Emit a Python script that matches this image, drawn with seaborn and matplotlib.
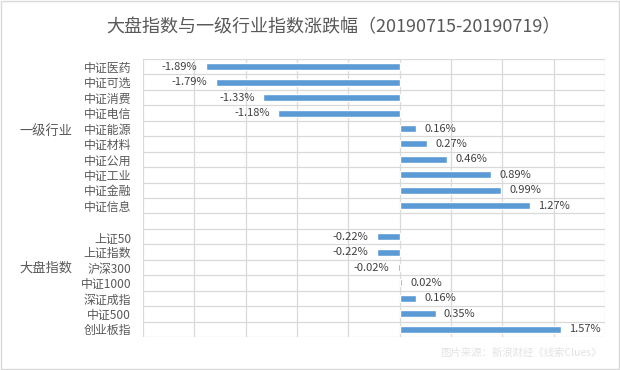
import pandas as pd
import seaborn as sns
import matplotlib.pyplot as plt
import numpy as np

# values
industry_names = ["中证医药", "中证可选", "中证消费", "中证电信", "中证能源",
                  "中证材料", "中证公用", "中证工业", "中证金融", "中证信息"]
industry_values = [-1.89, -1.79, -1.33, -1.18, 0.16, 0.27, 0.46, 0.89, 0.99, 1.27]
index_names = ["上证50", "上证指数", "沪深300", "中证1000", "深证成指", "中证500", "创业板指"]
index_values = [-0.22, -0.22, -0.02, 0.02, 0.16, 0.35, 1.57]
group_names = ["一级行业", "大盘指数"]

title = "大盘指数与一级行业指数涨跌幅（20190715-20190719）"
source = "图片来源：新浪财经《线索Clues》"

# one blank row separates the two groups
names = industry_names + [""] + index_names
values = industry_values + [np.nan] + index_values
df = pd.DataFrame({"name": names, "value": values})

sns.set_theme(style="white")
plt.rcParams["font.family"] = ["Noto Sans CJK SC", "DejaVu Sans"]

grid_c = "#d9d9d9"
text_c = "#595959"
bar_c = "#5b9bd5"

fig = plt.figure(figsize=(6.2, 3.7), dpi=100)
ax = fig.add_axes([0.2306, 0.0892, 0.9758 - 0.2306, 0.8405 - 0.0892])

sns.barplot(data=df, x="value", y="name", order=names, orient="h",
            color=bar_c, saturation=1, width=0.45, ax=ax, zorder=3)

ax.set_xlim(-2.5, 2.0)
ax.set_ylim(len(names) - 0.5, -0.5)
ax.set_xticks(np.arange(-2.5, 2.01, 0.5))
ax.set_xticklabels([])
ax.set_yticks(range(len(names)))
ax.set_yticklabels(names, fontsize=8.6, color=text_c)
ax.set_yticks(np.arange(-0.5, len(names), 1.0), minor=True)
ax.tick_params(axis="both", which="both", length=0, pad=8.5)
ax.grid(True, axis="x", which="major", color=grid_c, lw=0.9, zorder=0)
ax.grid(True, axis="y", which="minor", color=grid_c, lw=0.9, zorder=0)
ax.grid(False, axis="y", which="major")
for s in ax.spines.values():
    s.set_visible(False)
ax.set_xlabel("")
ax.set_ylabel("")

# value labels
for i, v in enumerate(values):
    if np.isnan(v):
        continue
    ax.annotate(f"{v:.2f}%", xy=(v, i), xytext=(6 if v >= 0 else -6, 0),
                textcoords="offset points", va="center",
                ha="left" if v >= 0 else "right", fontsize=8, color="#404040")

# group labels of the two-level axis
fig.text(46 / 620, 1 - 131 / 370, group_names[0], ha="center", va="center",
         fontsize=9.5, color=text_c)
fig.text(46 / 620, 1 - 268 / 370, group_names[1], ha="center", va="center",
         fontsize=9.5, color=text_c)

fig.text(333 / 620, 1 - 27 / 370, title, ha="center", va="center",
         fontsize=13, color=text_c)
fig.text(602 / 620, 1 - 353 / 370, source, ha="right", va="center",
         fontsize=7.5, color="#e3e3e3", style="italic")

# outer chart border
fig.patches.append(plt.Rectangle((0.001, 0.002), 0.997, 0.995, transform=fig.transFigure,
                                 fill=False, edgecolor=grid_c, lw=1))

fig.savefig("out.png", dpi=100)
